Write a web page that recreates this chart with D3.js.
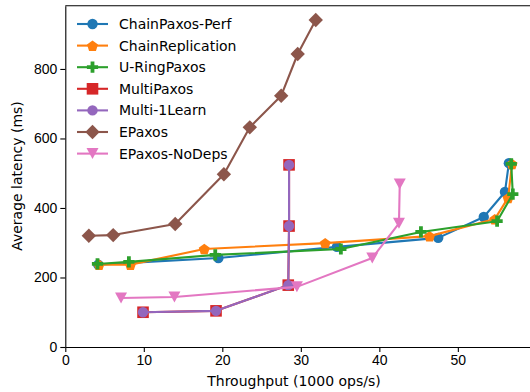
<!DOCTYPE html>
<html>
<head>
<meta charset="utf-8">
<script src="https://cdn.jsdelivr.net/npm/d3@7"></script>
<style>
  body { margin: 0; background: #fff; }
  svg { display: block; font-family: "DejaVu Sans", sans-serif; }
  .axis text { font-size: 14px; fill: #000; }
  .axis path, .axis line { stroke: #000; stroke-width: 1.1; }
  .axis-title { font-size: 14px; fill: #000; }
  .legend text { font-size: 14px; fill: #000; dominant-baseline: central; }
</style>
</head>
<body>
<svg id="chart" width="530" height="392"></svg>
<script>
"use strict";

// throughput in 1000 ops/s, latency in ms
const chainPaxosX = [4.2, 19.5, 34.6, 47.5, 53.3, 56.0, 56.5];
const chainPaxosY = [237, 256, 288, 314, 374, 446, 529];

const chainReplicationX = [4.3, 8.3, 17.7, 33.1, 46.4, 54.7, 56.4, 56.9];
const chainReplicationY = [237, 237, 282, 299, 319, 368, 429, 527];

const uRingPaxosX = [4.1, 8.1, 19.1, 35.1, 45.3, 55.0, 57.0, 56.8];
const uRingPaxosY = [239, 245, 265, 282, 331, 362, 440, 527];

const multiPaxosX = [9.9, 19.2, 28.4, 28.5, 28.5];
const multiPaxosY = [100, 104, 178, 348, 524];

const multi1LearnX = [9.9, 19.2, 28.4, 28.5, 28.5];
const multi1LearnY = [100, 104, 178, 348, 524];

const ePaxosX = [3.0, 6.1, 14.0, 20.2, 23.5, 27.5, 29.6, 31.9];
const ePaxosY = [320, 322, 354, 497, 632, 723, 843, 941];

const ePaxosNoDepsX = [7.1, 13.9, 29.5, 39.1, 42.5, 42.6];
const ePaxosNoDepsY = [141, 144, 173, 256, 356, 469];

const xTicks = [0, 10, 20, 30, 40, 50];
const yTicks = [0, 200, 400, 600, 800];

const series = [
  {label: "ChainPaxos-Perf", xs: chainPaxosX, ys: chainPaxosY, color: "#1f77b4", marker: "circle"},
  {label: "ChainReplication", xs: chainReplicationX, ys: chainReplicationY, color: "#ff7f0e", marker: "pentagon"},
  {label: "U-RingPaxos", xs: uRingPaxosX, ys: uRingPaxosY, color: "#2ca02c", marker: "plus"},
  {label: "MultiPaxos", xs: multiPaxosX, ys: multiPaxosY, color: "#d62728", marker: "square"},
  {label: "Multi-1Learn", xs: multi1LearnX, ys: multi1LearnY, color: "#9467bd", marker: "circle"},
  {label: "EPaxos", xs: ePaxosX, ys: ePaxosY, color: "#8c564b", marker: "diamond"},
  {label: "EPaxos-NoDeps", xs: ePaxosNoDepsX, ys: ePaxosNoDepsY, color: "#e377c2", marker: "triangleDown"},
];

function markerPath(kind) {
  switch (kind) {
  case "circle": {
    const r = 5.2;
    return `M${-r},0A${r},${r} 0 1,0 ${r},0A${r},${r} 0 1,0 ${-r},0Z`;
  }
  case "square": {
    const h = 5.8;
    return `M${-h},${-h}H${h}V${h}H${-h}Z`;
  }
  case "diamond": {
    const h = 7.2;
    return `M0,${-h}L${h},0L0,${h}L${-h},0Z`;
  }
  case "triangleDown": {
    const w = 6, t = 5.5;
    return `M${-w},${-t}L${w},${-t}L0,${t}Z`;
  }
  case "plus": {
    const a = 5.6, b = 1.9;
    return `M${-b},${-a}H${b}V${-b}H${a}V${b}H${b}V${a}H${-b}V${b}H${-a}V${-b}H${-b}Z`;
  }
  case "pentagon": {
    const r = 5.8;
    const pts = d3.range(5).map(i => {
      const ang = -Math.PI / 2 + i * 2 * Math.PI / 5;
      return [r * Math.cos(ang), r * Math.sin(ang) + 0.6];
    });
    return "M" + pts.map(p => p.join(",")).join("L") + "Z";
  }
  }
}

const svg = d3.select("#chart");

const plot = {left: 65.3, right: 534, top: 5.7, bottom: 347};

const xScale = d3.scaleLinear()
                 .domain([0, 59.7])
                 .range([plot.left, plot.right]);
const yScale = d3.scaleLinear()
                 .domain([0, 982])
                 .range([plot.bottom, plot.top]);

// axes
svg.append("g")
   .attr("class", "axis")
   .attr("transform", `translate(0, ${plot.bottom})`)
   .call(d3.axisBottom(xScale)
           .tickValues(xTicks)
           .tickSize(5)
           .tickPadding(3)
           .tickSizeOuter(0));

svg.append("g")
   .attr("class", "axis")
   .attr("transform", `translate(${plot.left}, 0)`)
   .call(d3.axisLeft(yScale)
           .tickValues(yTicks)
           .tickSize(5)
           .tickPadding(3)
           .tickSizeOuter(0));

// top spine
svg.append("line")
   .attr("x1", plot.left).attr("x2", plot.right)
   .attr("y1", plot.top).attr("y2", plot.top)
   .attr("stroke", "#000").attr("stroke-width", 1.1);

svg.append("text")
   .attr("class", "axis-title")
   .attr("text-anchor", "middle")
   .attr("x", 294)
   .attr("y", 386)
   .text("Throughput (1000 ops/s)");

svg.append("text")
   .attr("class", "axis-title")
   .attr("text-anchor", "middle")
   .attr("transform", "translate(22, 176) rotate(-90)")
   .text("Average latency (ms)");

// data
const line = d3.line()
               .x(d => xScale(d[0]))
               .y(d => yScale(d[1]));

series.forEach(s => {
  const pts = s.xs.map((x, i) => [x, s.ys[i]]);
  const g = svg.append("g");

  g.append("path")
   .datum(pts)
   .attr("fill", "none")
   .attr("stroke", s.color)
   .attr("stroke-width", 2.1)
   .attr("stroke-linejoin", "round")
   .attr("d", line);

  g.selectAll("path.marker")
   .data(pts)
   .join("path")
   .attr("class", "marker")
   .attr("fill", s.color)
   .attr("transform", d => `translate(${xScale(d[0])}, ${yScale(d[1])})`)
   .attr("d", markerPath(s.marker));
});

// legend
const legend = svg.append("g").attr("class", "legend");
const entryHeight = 21.6;
const legendTop = 24;

series.forEach((s, i) => {
  const y = legendTop + i * entryHeight;
  legend.append("line")
        .attr("x1", 77).attr("x2", 108)
        .attr("y1", y).attr("y2", y)
        .attr("stroke", s.color)
        .attr("stroke-width", 2.1);
  legend.append("path")
        .attr("fill", s.color)
        .attr("transform", `translate(92.5, ${y})`)
        .attr("d", markerPath(s.marker));
  legend.append("text")
        .attr("x", 119)
        .attr("y", y)
        .text(s.label);
});
</script>
</body>
</html>
